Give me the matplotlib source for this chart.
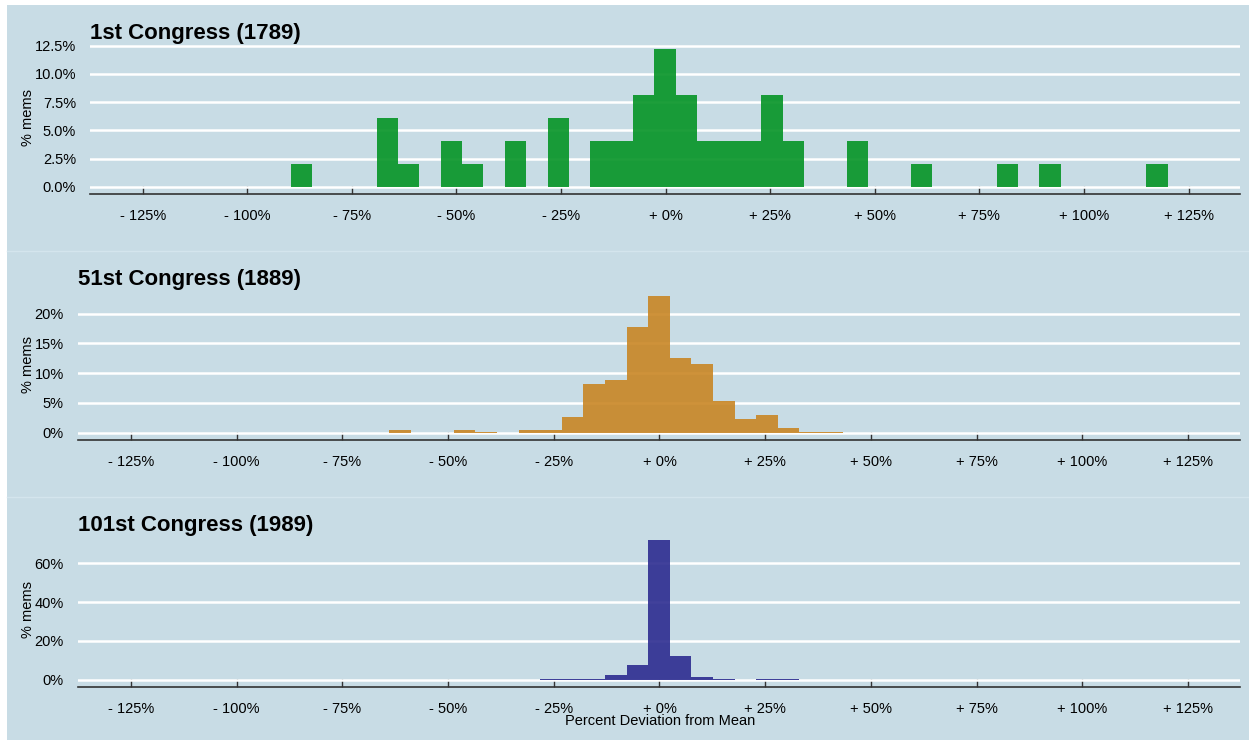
import matplotlib
matplotlib.use('Agg')
import matplotlib.pyplot as plt
import numpy as np
from matplotlib.lines import Line2D
from matplotlib.patches import Rectangle

plt.rcParams['font.family'] = ['Liberation Sans', 'DejaVu Sans']

# histogram bins (percent deviation from mean)
bin_width = 5.11
bin_origin = -2.66

# 1st Congress: member counts per bin, starting at bin -17
cong1_start = -17
cong1_counts = [1, 0, 0, 0, 3, 1, 0, 2, 1, 0,
                2, 0, 3, 0, 2, 2, 4, 6, 4, 2,
                2, 2, 4, 2, 0, 0, 2, 0, 0, 1,
                0, 0, 0, 1, 0, 1, 0, 0, 0, 0, 1]
cong1_total = 49

# 51st Congress: % of members per bin, starting at bin -12
cong51_start = -12
cong51_pct = [0.45, 0, 0, 0.45, 0.15, 0, 0.45, 0.45, 2.68, 8.16, 8.83,
              17.8, 23.0, 12.6, 11.45, 5.3, 2.23, 2.9, 0.84, 0.15, 0.15]

# 101st Congress: % of members per bin, starting at bin -5
cong101_start = -5
cong101_pct = [0.35, 0.12, 0.35, 2.27, 7.5, 71.8, 12.0, 1.57, 0.12, 0, 0.12, 0.12]

titles = ['1st Congress (1789)', '51st Congress (1889)', '101st Congress (1989)']
colors = ['#059425', '#c98624', '#2d2c90']
x_ticks = [-125, -100, -75, -50, -25, 0, 25, 50, 75, 100, 125]
x_labels = ['- 125%', '- 100%', '- 75%', '- 50%', '- 25%', '+ 0%',
            '+ 25%', '+ 50%', '+ 75%', '+ 100%', '+ 125%']
y_ticks = [[0, 2.5, 5, 7.5, 10, 12.5], [0, 5, 10, 15, 20], [0, 20, 40, 60]]
y_labels = [['0.0%', '2.5%', '5.0%', '7.5%', '10.0%', '12.5%'],
            ['0%', '5%', '10%', '15%', '20%'],
            ['0%', '20%', '40%', '60%']]

W, H = 1249, 740
bg = '#c8dce5'
fig = plt.figure(figsize=(W / 100, H / 100), dpi=100, facecolor='white')
fig.add_artist(Rectangle((7 / W, 0), 1 - 7 / W, 1 - 5 / H, transform=fig.transFigure,
                         facecolor=bg, edgecolor='none', zorder=0))
for yy in [250.7, 496.7]:
    fig.add_artist(Line2D([7 / W, 1], [1 - yy / H] * 2, transform=fig.transFigure,
                          color='#d4e5ed', lw=1, zorder=1))

# panel boxes in pixels: left, right, top, bottom
boxes = [(90, 1240, 41.6, 193.7), (77.7, 1240, 288.8, 439.5), (77.7, 1240, 533.5, 686.5)]
title_y = [33, 280, 526]

series = [(cong1_start, [c / cong1_total * 100 for c in cong1_counts]),
          (cong51_start, cong51_pct),
          (cong101_start, cong101_pct)]

for i, (l, r, t, b) in enumerate(boxes):
    ax = fig.add_axes([l / W, 1 - b / H, (r - l) / W, (b - t) / H])
    ax.set_facecolor('none')
    start, vals = series[i]
    lefts = [bin_origin + (start + j) * bin_width for j in range(len(vals))]
    ax.bar(lefts, vals, width=bin_width, align='edge', color=colors[i],
           alpha=0.9, linewidth=0, zorder=3)
    top = max(vals)
    ax.set_ylim(-0.05 * top, top * 1.05)
    ax.set_xlim(-137.6, 137.3)
    ax.set_yticks(y_ticks[i])
    ax.set_yticklabels(y_labels[i])
    ax.set_xticks(x_ticks)
    ax.set_xticklabels(x_labels)
    ax.grid(axis='y', color='white', lw=1.8, zorder=1)
    ax.grid(axis='x', visible=False)
    for s in ['top', 'right', 'left']:
        ax.spines[s].set_visible(False)
    ax.spines['bottom'].set_color('#333333')
    ax.spines['bottom'].set_linewidth(1.2)
    ax.tick_params(axis='x', direction='in', length=6, width=1, color='#333333',
                   pad=11, labelsize=10.5, labelcolor='black')
    ax.tick_params(axis='y', length=0, pad=10, labelsize=10.5, labelcolor='black')
    ax.set_axisbelow(True)
    fig.text(l / W, 1 - title_y[i] / H, titles[i], fontsize=16, fontweight='bold',
             ha='left', va='center')
    fig.text(28 / W, 1 - (t + b) / 2 / H, '% mems', rotation=90, fontsize=10.5,
             ha='center', va='center')

fig.text(660 / W, 1 - 721 / H, 'Percent Deviation from Mean', fontsize=10.5,
         ha='center', va='center')

fig.savefig('out.png', dpi=100, facecolor='white')
